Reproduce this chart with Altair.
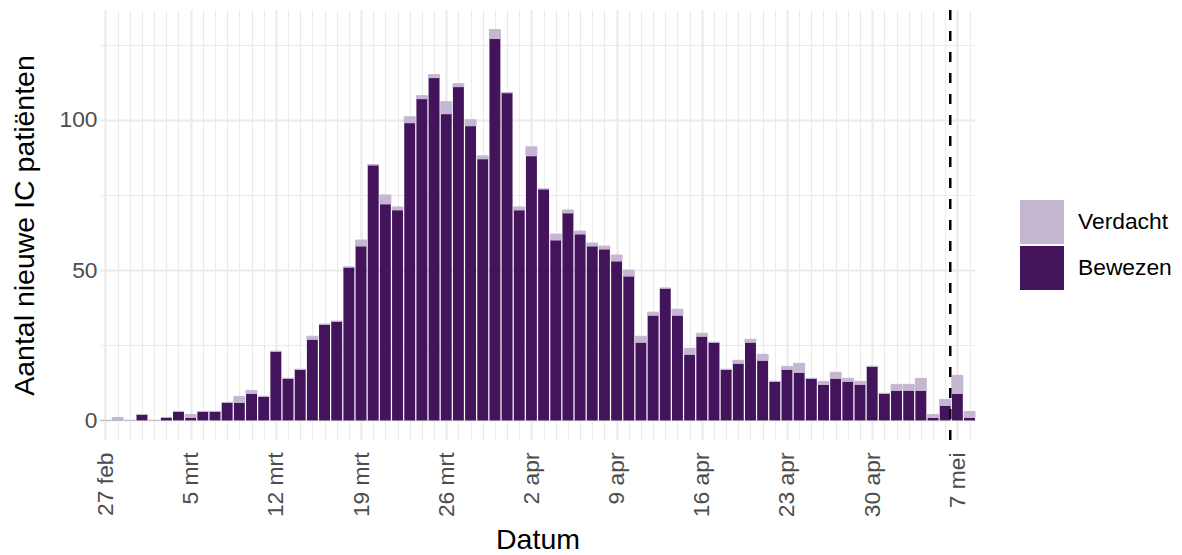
import json
import altair as alt
import pandas as pd

# ---------------- data ----------------
start_date = "2020-02-27"          # first bar
bewezen = [0, 0, 0, 2, 0, 1, 3, 1, 3, 3, 6, 6, 9, 8, 23, 14, 17, 27, 32, 33,
           51, 58, 85, 72, 70, 99, 107, 114, 102, 111, 98, 87, 127, 109, 70, 88,
           77, 60, 69, 62, 58, 57, 53, 48, 26, 35, 44, 35, 22, 28, 26, 17, 19, 26,
           20, 13, 17, 16, 14, 12, 14, 13, 12, 18, 9, 10, 10, 10, 1, 5, 9, 1]
verdacht = [0, 1, 0, 0, 0, 0, 0, 1, 0, 0, 0, 2, 1, 0, 0, 0, 0, 1, 0, 0,
            0, 2, 0, 3, 1, 2, 1, 1, 4, 1, 2, 1, 3, 0, 1, 3,
            0, 2, 1, 1, 1, 1, 2, 2, 2, 1, 0, 2, 2, 1, 0, 0, 1, 1,
            2, 0, 1, 3, 0, 1, 2, 1, 1, 0, 0, 2, 2, 4, 1, 2, 6, 2]
tick_labels = ["27 feb", "5 mrt", "12 mrt", "19 mrt", "26 mrt", "2 apr",
               "9 apr", "16 apr", "23 apr", "30 apr", "7 mei"]
y_ticks = [0, 25, 50, 75, 100, 125]
reference_moment = "2020-05-06T10:00"   # dashed vertical line
series = ["Verdacht", "Bewezen"]
colors = ["#c5b6d2", "#43145b"]

# ---------------- table ----------------
dates = pd.date_range(start_date, periods=len(bewezen), freq="D")
rows = []
for name, values, order in (("Bewezen", bewezen, 0), ("Verdacht", verdacht, 1)):
    for i, (d, v) in enumerate(zip(dates, values)):
        rows.append({"datum": d.strftime("%Y-%m-%d"), "dag": i,
                     "status": name, "aantal": v, "volgorde": order})
df = pd.DataFrame(rows)
ref_day = (pd.Timestamp(reference_moment) - pd.Timestamp(start_date)) / pd.Timedelta(days=1)
ref_df = pd.DataFrame({"dag": [ref_day]})

FONT = "Liberation Sans"
n = len(dates)
x_scale = alt.Scale(domain=[-0.45, n - 1 + 0.45], nice=False, zero=False)
y_scale = alt.Scale(domain=[-6.5, 136.5], nice=False, zero=False)

label_js = json.dumps(tick_labels)
x_axis = alt.Axis(
    values=list(range(n)),
    labelExpr=f"datum.value % 7 === 0 ? {label_js}[datum.value / 7] : ''",
    labelAngle=270, labelAlign="right", labelBaseline="middle",
    labelPadding=12, labelOverlap=False, labelBound=False, labelFlush=False,
    titlePadding=9,
    gridWidth={"condition": {"test": "datum.value % 7 === 0", "value": 2.2}, "value": 1.1},
)
y_axis = alt.Axis(
    values=y_ticks,
    labelExpr="datum.value % 50 === 0 ? datum.label : ''",
    labelPadding=3, titlePadding=19, labelOverlap=False,
    gridWidth={"condition": {"test": "datum.value % 50 === 0", "value": 2.2}, "value": 1.1},
)

bars = (
    alt.Chart(df)
    .transform_stack(stack="aantal", groupby=["dag"], as_=["y0", "y1"],
                     sort=[alt.SortField("volgorde", order="ascending")])
    .transform_calculate(x0="datum.dag - 0.45", x1="datum.dag + 0.45")
    .mark_bar(stroke=colors[0])
    .encode(
        x=alt.X("x0:Q", scale=x_scale, axis=x_axis, title="Datum"),
        x2="x1:Q",
        y=alt.Y("y0:Q", scale=y_scale, axis=y_axis, title="Aantal nieuwe IC patiënten"),
        y2="y1:Q",
        color=alt.Color(
            "status:N",
            scale=alt.Scale(domain=series, range=colors),
            legend=alt.Legend(
                title=None, orient="none", legendX=920, legendY=190,
                symbolType="square", symbolSize=1936, symbolStrokeWidth=0,
                labelFont=FONT, labelFontSize=22.8, labelColor="black",
                labelOffset=14, rowPadding=2, padding=0,
            ),
        ),
        strokeWidth=alt.condition("datum.status === 'Verdacht'", alt.value(1.0), alt.value(0)),
        order=alt.Order("volgorde:Q"),
    )
)

rule = (
    alt.Chart(ref_df)
    .mark_rule(color="black", strokeWidth=2.5, strokeDash=[10, 11])
    .encode(x=alt.X("dag:Q", scale=x_scale, axis=x_axis, title="Datum"))
)

chart = (
    alt.layer(bars, rule)
    .properties(width=875, height=430,
                autosize=alt.AutoSizeParams(type="none"),
                padding={"left": 92, "top": 2, "right": 199, "bottom": 117})
    .configure_view(stroke=None)
    .configure_axis(
        domain=False, ticks=False,
        labelFont=FONT, titleFont=FONT,
        labelFontSize=22.8, titleFontSize=28.5,
        labelColor="#4d4d4d", titleColor="black",
        titleFontWeight="normal", gridColor="#ebebeb",
    )
)

chart.save("out.html", embed_options={"renderer": "svg", "actions": False})
